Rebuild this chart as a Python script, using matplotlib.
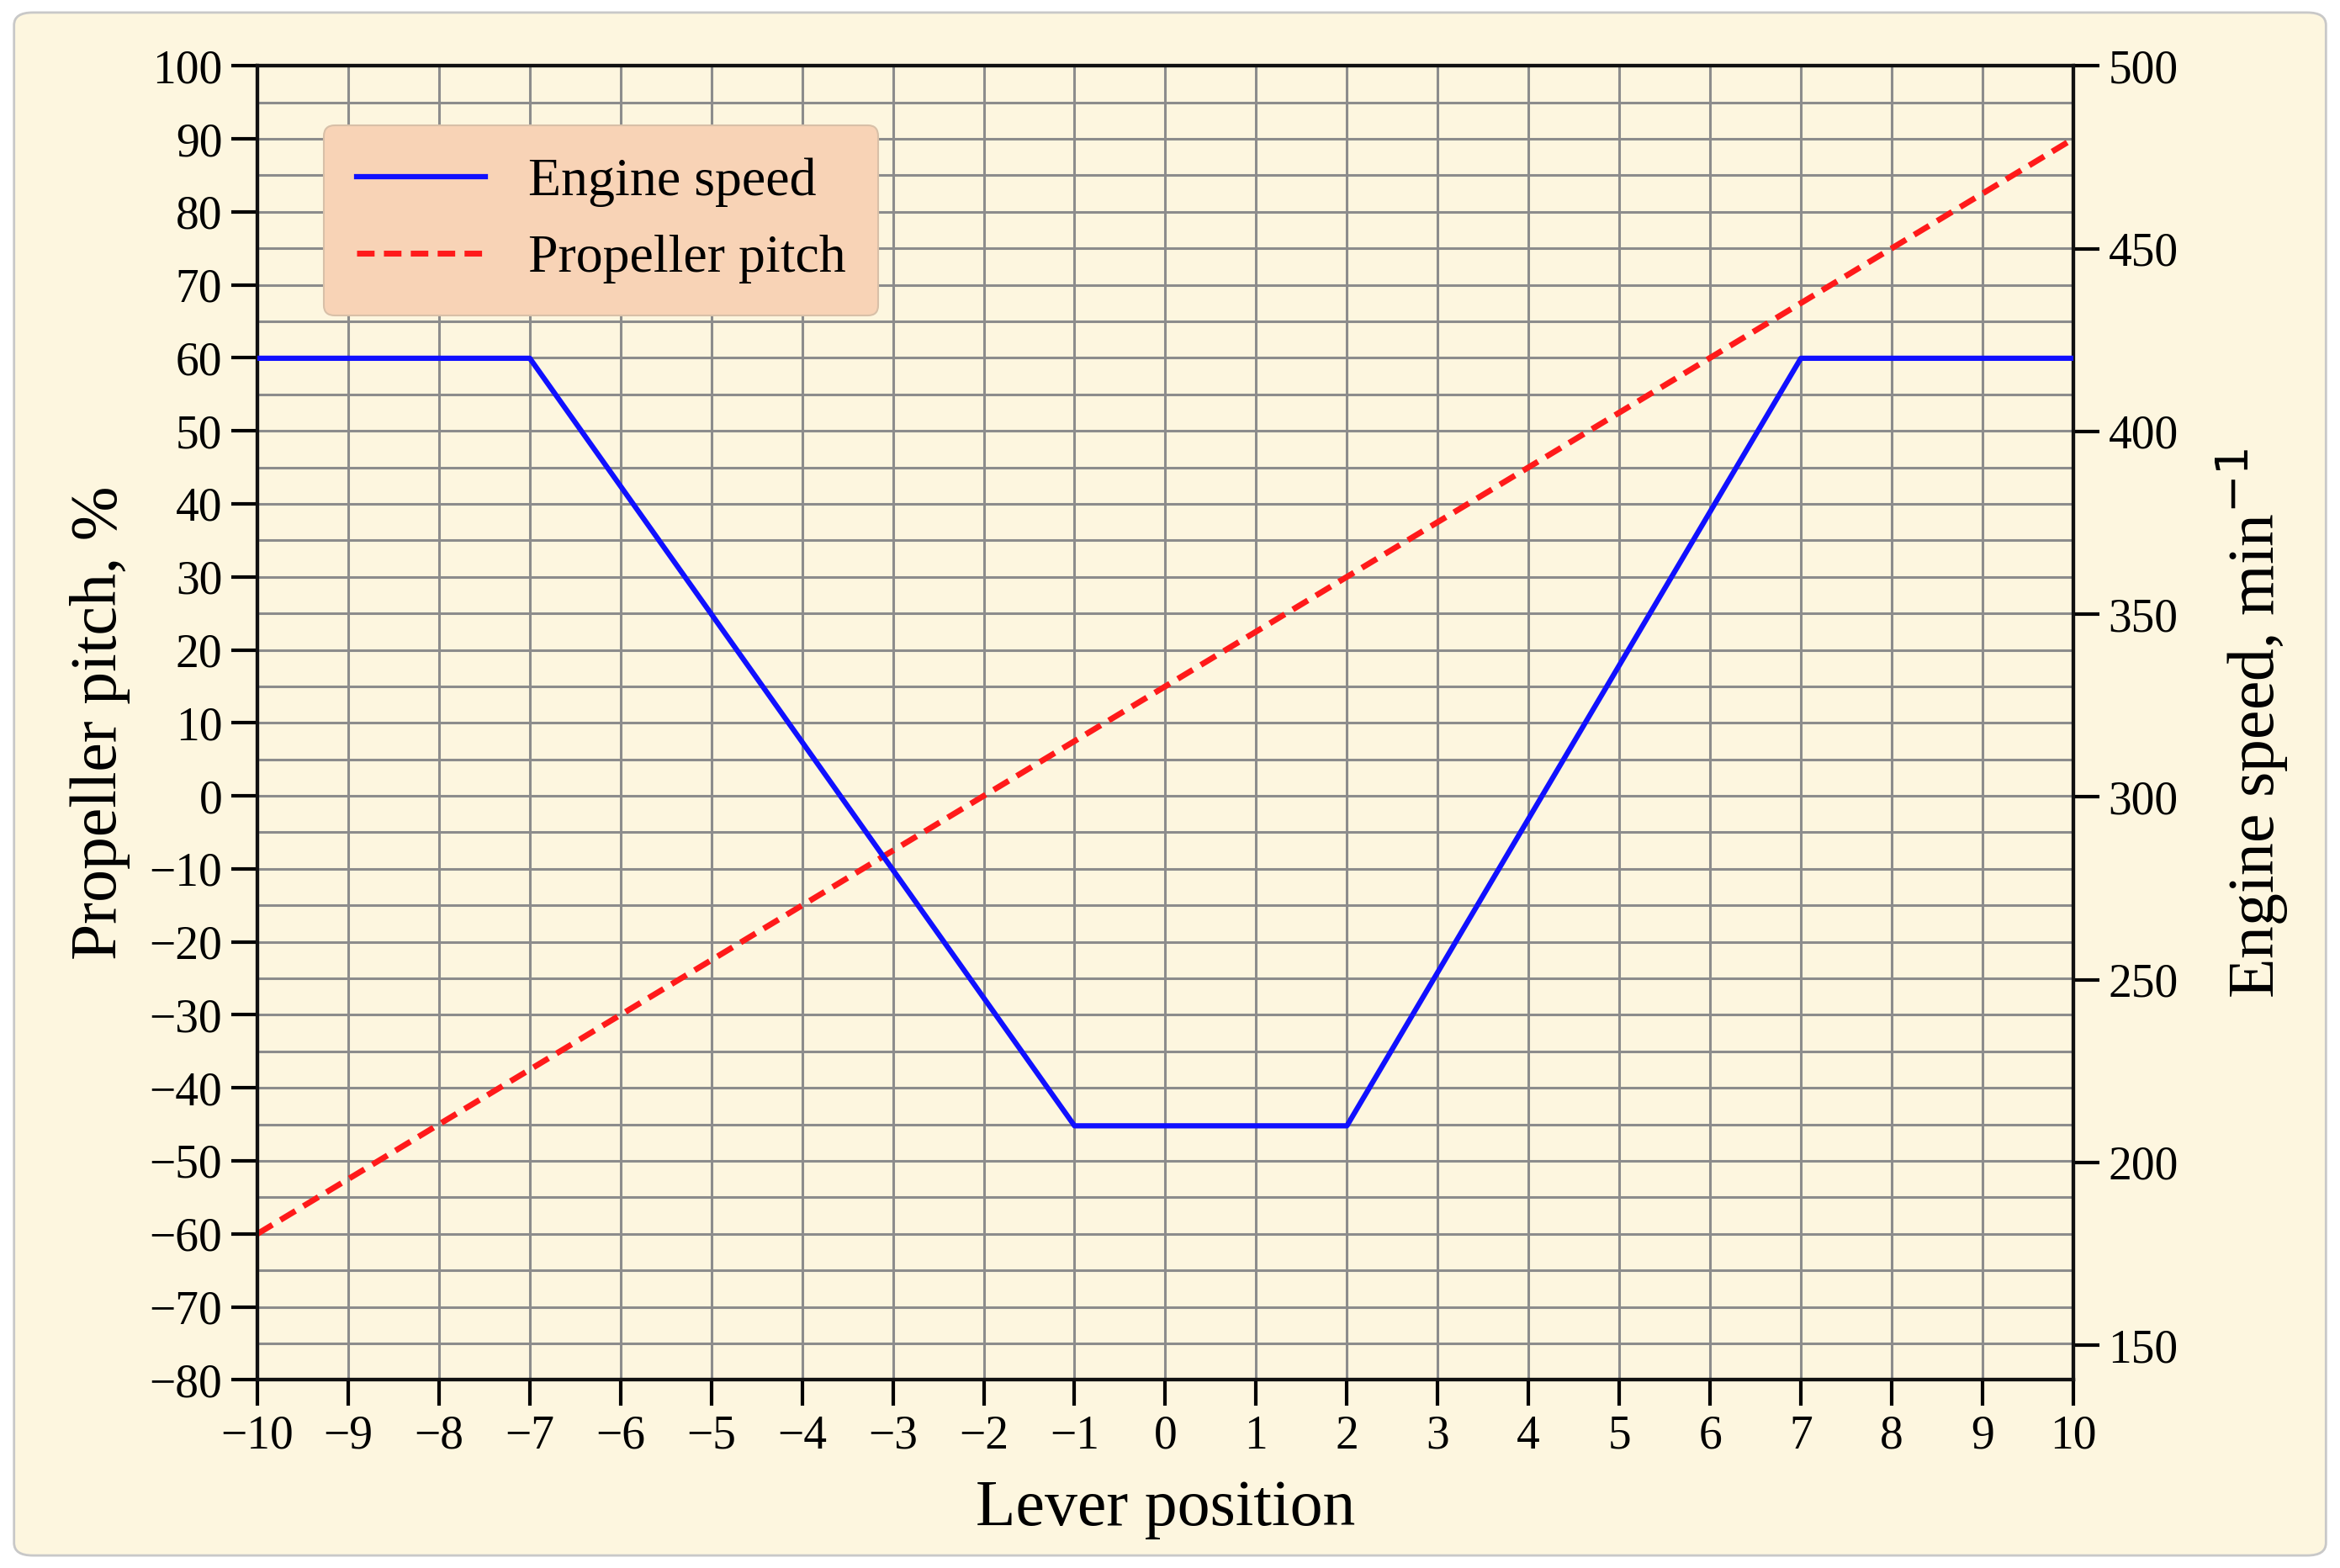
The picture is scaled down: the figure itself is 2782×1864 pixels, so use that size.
import numpy as np
import matplotlib
matplotlib.use("Agg")
import matplotlib.pyplot as plt
from matplotlib.patches import FancyBboxPatch
from matplotlib.ticker import MultipleLocator

plt.rcParams['font.family'] = ['Liberation Serif', 'DejaVu Serif']

# data
lever_speed = [-10, -7, -1, 2, 7, 10]
engine_speed = [420, 420, 210, 210, 420, 420]     # min^-1, right axis
lever_pitch = [-10, 10]
propeller_pitch = [-60, 90]                        # %, left axis

bg = "#fdf6df"
fig = plt.figure(figsize=(27.82, 18.64), dpi=100, facecolor="white")
frame = FancyBboxPatch((0.006, 0.008), 0.988, 0.984,
                       boxstyle="round,pad=0,rounding_size=0.008",
                       transform=fig.transFigure, fc=bg, ec="#c8c8c8", lw=2, zorder=-10)
fig.patches.append(frame)
ax = fig.add_axes([0.110, 0.120, 0.776, 0.838])
ax.set_facecolor(bg)
ax2 = ax.twinx()

ax.set_xlim(-10, 10)
ax.set_ylim(-80, 100)
ax2.set_ylim(140.5, 500)

ax.xaxis.set_major_locator(MultipleLocator(1))
ax.yaxis.set_major_locator(MultipleLocator(10))
ax.yaxis.set_minor_locator(MultipleLocator(5))
ax2.yaxis.set_major_locator(MultipleLocator(50))
ax2.yaxis.set_minor_locator(MultipleLocator(10))

ax.grid(True, which="major", color="#8c8c8c", lw=2.2)
ax.grid(True, which="minor", axis="y", color="#8c8c8c", lw=2.2)
ax.set_axisbelow(True)

ax.plot(lever_pitch, propeller_pitch, "--", color="#ff1a1a", lw=5, dashes=(3, 1.6),
        label="Propeller pitch", zorder=3)
ax2.plot(lever_speed, engine_speed, "-", color="#1010ff", lw=4.5, label="Engine speed", zorder=3)

for a in (ax, ax2):
    for s in a.spines.values():
        s.set_linewidth(3)
        s.set_color("#111111")
ax.tick_params(which="major", length=22, width=3, labelsize=40, direction="out", pad=8)
ax.tick_params(which="minor", length=0)
ax2.tick_params(which="major", length=22, width=3, labelsize=40, direction="out", pad=8)
ax2.tick_params(which="minor", length=0)

ax.set_xlabel("Lever position", fontsize=56, labelpad=18)
ax.set_ylabel("Propeller pitch, %", fontsize=56, labelpad=16)
ax2.set_ylabel("Engine speed, min$^{-1}$", fontsize=56, labelpad=30)

h1, l1 = ax2.get_legend_handles_labels()
h2, l2 = ax.get_legend_handles_labels()
leg = ax2.legend(h1 + h2, l1 + l2, loc="upper left", bbox_to_anchor=(0.022, 0.975),
                 fontsize=46, facecolor="#f8d3b6", edgecolor="#d8c0a8", framealpha=1,
                 fancybox=True, handlelength=2.4, borderpad=0.6)
leg.get_frame().set_linewidth(1.5)

fig.savefig("out.png", dpi=100, facecolor="white")
